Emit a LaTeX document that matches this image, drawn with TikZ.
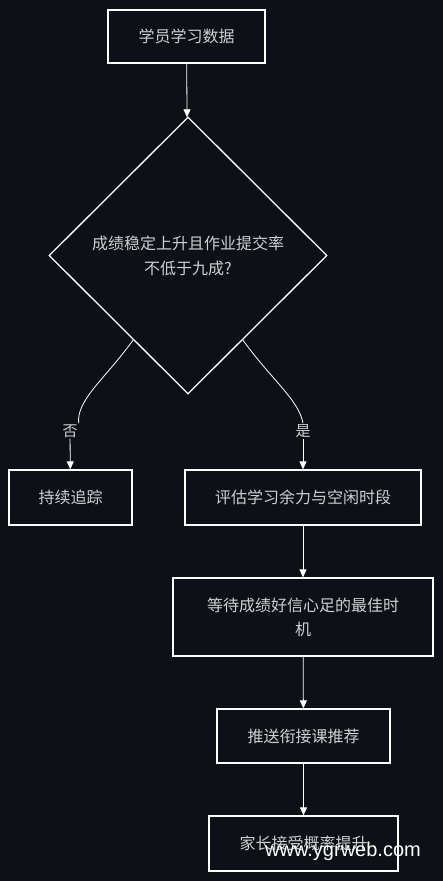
\documentclass[tikz,border=0pt]{standalone}
\usepackage{fontspec}
\usepackage{xcolor}
\usepackage{tikz}
\usetikzlibrary{shapes.geometric, arrows.meta}
\newfontfamily\cjk{Noto Sans CJK SC}
\newfontfamily\wmfont{Liberation Sans}
\definecolor{bgdark}{HTML}{0D1117}
\definecolor{txtgray}{HTML}{CFCFCF}
\tikzset{
    stepbox/.style={draw=white, line width=1.3pt, fill=bgdark, text=txtgray, align=center,
        font={\cjk\fontsize{16pt}{24pt}\selectfont}},
    choice/.style={draw=white, line width=1.3pt, fill=bgdark, text=txtgray, align=center,
        diamond, inner sep=0pt, minimum width=278pt, minimum height=277pt,
        font={\cjk\fontsize{16pt}{25pt}\selectfont}},
    branch/.style={text=txtgray, inner sep=1pt, font={\cjk\fontsize{15pt}{18pt}\selectfont}},
    flow/.style={draw=white, line width=0.8pt, -{Triangle[length=8pt,width=7pt]}},
    plain/.style={draw=white, line width=0.8pt}
}
\begin{document}
\begin{tikzpicture}[x=1pt, y=-1pt]
    \fill[bgdark] (0,0) rectangle (443,881);

    \node[stepbox, minimum width=157pt, minimum height=53pt] (data) at (186.5,36.5) {学员学习数据};
    \node[choice] (dec) at (188,255.5) {成绩稳定上升且作业提交率\\不低于九成?};
    \node[branch] (lno) at (70,431) {否};
    \node[branch] (lyes) at (303,431) {是};
    \node[stepbox, minimum width=123pt, minimum height=55pt] (track) at (70.5,497.5) {持续追踪};
    \node[stepbox, minimum width=236pt, minimum height=55pt] (assess) at (303,497.5) {评估学习余力与空闲时段};
    \node[stepbox, minimum width=260pt, minimum height=78pt] (wait) at (303,617) {等待成绩好信心足的最佳时\\机};
    \node[stepbox, minimum width=173pt, minimum height=54pt] (push) at (303.5,736) {推送衔接课推荐};
    \node[stepbox, minimum width=189pt, minimum height=55pt] (accept) at (303.5,843.5) {家长接受概率提升};

    \draw[flow] (data) -- (dec);
    \draw[plain] (dec.237) .. controls (106,378) and (76,400) .. (lno.north east);
    \draw[flow] (lno) -- (track);
    \draw[plain] (dec.303) .. controls (270,378) and (299,400) .. (lyes.north);
    \draw[flow] (lyes) -- (assess);
    \draw[flow] (assess) -- (wait);
    \draw[flow] (wait) -- (push);
    \draw[flow] (push) -- (accept);

    % watermark
    \node[text=white, font={\wmfont\fontsize{20pt}{24pt}\selectfont}] (mark) at (343,851) {www.ygrweb.com};
\end{tikzpicture}
\end{document}
